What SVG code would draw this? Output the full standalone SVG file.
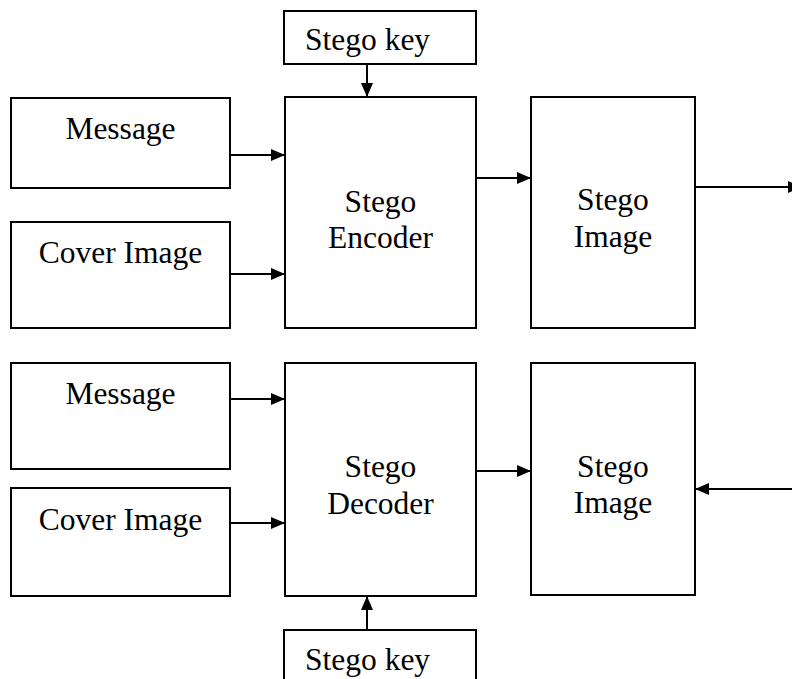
<svg xmlns="http://www.w3.org/2000/svg" width="792" height="679" viewBox="0 0 792 679">
<style>
.box{fill:#fff;stroke:#000;stroke-width:2}
.t{font-family:"Liberation Serif","Times New Roman",serif;font-size:31.5px;fill:#000;text-anchor:middle}
.ts{font-family:"Liberation Serif","Times New Roman",serif;font-size:31.5px;fill:#000}
.c{stroke:#000;stroke-width:2;fill:none;marker-end:url(#ah)}
</style>
<defs>
<marker id="ah" markerUnits="userSpaceOnUse" markerWidth="14" markerHeight="12" refX="14" refY="6" orient="auto">
<path d="M0,0 L14,6 L0,12 z" fill="#000"/>
</marker>
</defs>
<rect width="792" height="679" fill="#fff"/>
<g id="key1"><rect class="box" x="284" y="11" width="192" height="53"/><text class="ts" x="305" y="50">Stego key</text></g>
<g id="msg1"><rect class="box" x="11" y="98" width="219" height="90"/><text class="t" x="120.5" y="139">Message</text></g>
<g id="cov1"><rect class="box" x="11" y="222" width="219" height="106"/><text class="t" x="120.5" y="263">Cover Image</text></g>
<g id="enc"><rect class="box" x="285" y="97" width="191" height="231"/><text class="t" x="380.5" y="212">Stego</text><text class="t" x="380.5" y="248">Encoder</text></g>
<g id="img1"><rect class="box" x="531" y="97" width="164" height="231"/><text class="t" x="613" y="210">Stego</text><text class="t" x="613" y="247">Image</text></g>
<g id="msg2"><rect class="box" x="11" y="363" width="219" height="106"/><text class="t" x="120.5" y="404">Message</text></g>
<g id="cov2"><rect class="box" x="11" y="488" width="219" height="108"/><text class="t" x="120.5" y="530">Cover Image</text></g>
<g id="dec"><rect class="box" x="285" y="363" width="191" height="233"/><text class="t" x="380.5" y="477">Stego</text><text class="t" x="380.5" y="514">Decoder</text></g>
<g id="img2"><rect class="box" x="531" y="363" width="164" height="232"/><text class="t" x="613" y="477">Stego</text><text class="t" x="613" y="513">Image</text></g>
<g id="key2"><rect class="box" x="284" y="630" width="192" height="60"/><text class="ts" x="305" y="670">Stego key</text></g>
<g id="connectors">
<line class="c" x1="367" y1="64" x2="367" y2="97"/>
<line class="c" x1="230" y1="155" x2="285" y2="155"/>
<line class="c" x1="230" y1="274" x2="285" y2="274"/>
<line class="c" x1="476" y1="178" x2="531" y2="178"/>
<line class="c" x1="695" y1="187" x2="802" y2="187"/>
<line class="c" x1="230" y1="399" x2="285" y2="399"/>
<line class="c" x1="230" y1="523" x2="285" y2="523"/>
<line class="c" x1="476" y1="471" x2="531" y2="471"/>
<line class="c" x1="792" y1="489" x2="695" y2="489"/>
<line class="c" x1="367" y1="630" x2="367" y2="596"/>
</g>
</svg>
